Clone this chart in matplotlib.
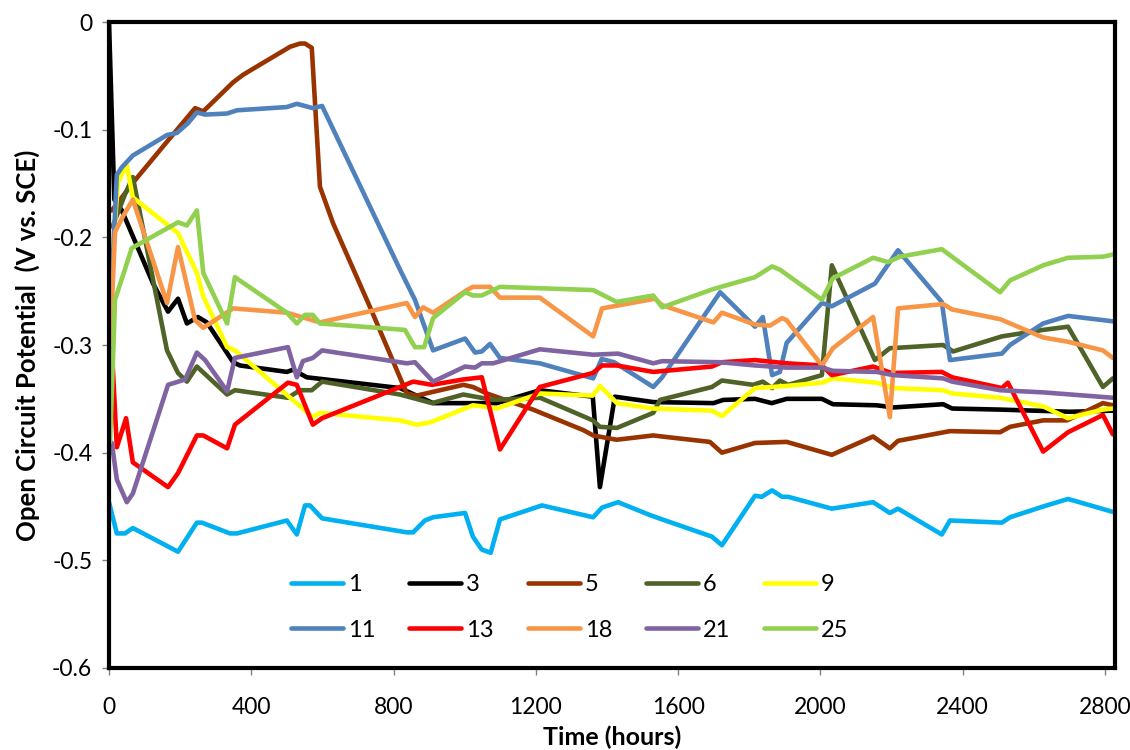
import matplotlib
matplotlib.use("Agg")
import matplotlib.pyplot as plt
from matplotlib.ticker import FuncFormatter

plt.rcParams['axes.unicode_minus'] = False
plt.rcParams['font.family'] = ['Lato', 'DejaVu Sans']

labels = ['1', '3', '5', '6', '9', '11', '13', '18', '21', '25']
colors = ['#00B0F0', '#000000', '#993300', '#4F6228', '#FFFF00',
          '#4F81BD', '#FF0000', '#F79646', '#8064A2', '#92D050']

h1 = [0, 22, 45, 67, 194, 247, 261, 340, 360, 500, 528, 551, 565, 599, 837, 855, 888, 911, 1001, 1023,
      1048, 1073, 1099, 1217, 1361, 1386, 1431, 1521, 1555, 1695, 1723, 1816, 1835, 1864, 1892,
      1909, 2032, 2148, 2195, 2218, 2341, 2364, 2510, 2533, 2626, 2696, 2822]
v1 = [-0.446, -0.475, -0.475, -0.470, -0.492, -0.465, -0.465, -0.475, -0.475, -0.463, -0.476, -0.449,
      -0.449, -0.461, -0.474, -0.474, -0.463, -0.460, -0.456, -0.478, -0.490, -0.493, -0.462, -0.449,
      -0.460, -0.451, -0.446, -0.458, -0.462, -0.478, -0.486, -0.440, -0.441, -0.435, -0.441, -0.441,
      -0.452, -0.446, -0.456, -0.452, -0.476, -0.463, -0.465, -0.460, -0.450, -0.443, -0.455]

h3 = [0, 15, 36, 124, 166, 194, 219, 250, 275, 349, 368, 500, 517, 556, 818, 911, 1090, 1211, 1360, 1380,
      1422, 1530, 1699, 1727, 1816, 1863, 1905, 2004, 2035, 2158, 2205, 2345, 2370, 2505, 2701, 2822]
v3 = [0.0, -0.165, -0.175, -0.243, -0.269, -0.257, -0.280, -0.274, -0.279, -0.316, -0.319, -0.325,
      -0.323, -0.330, -0.340, -0.354, -0.354, -0.342, -0.348, -0.432, -0.348, -0.353, -0.354, -0.351,
      -0.350, -0.354, -0.350, -0.350, -0.355, -0.356, -0.358, -0.355, -0.359, -0.360, -0.362, -0.361]

h5 = [8, 73, 166, 242, 265, 349, 377, 509, 537, 551, 570, 593, 630, 734, 837, 865, 996, 1023, 1062, 1192,
      1333, 1361, 1427, 1530, 1555, 1689, 1723, 1816, 1905, 2032, 2148, 2195, 2218, 2364, 2505,
      2533, 2626, 2693, 2794, 2822]
v5 = [-0.175, -0.147, -0.110, -0.080, -0.083, -0.056, -0.049, -0.023, -0.020, -0.020, -0.024, -0.153,
      -0.187, -0.265, -0.345, -0.347, -0.337, -0.339, -0.345, -0.360, -0.379, -0.384, -0.388, -0.384,
      -0.385, -0.390, -0.400, -0.391, -0.390, -0.402, -0.385, -0.396, -0.389, -0.380, -0.381, -0.376,
      -0.370, -0.370, -0.354, -0.356]

h6 = [10, 45, 67, 163, 194, 219, 247, 332, 354, 503, 537, 570, 599, 818, 908, 996, 1080, 1212, 1360, 1380,
      1428, 1530, 1549, 1695, 1723, 1811, 1838, 1864, 1886, 1909, 2004, 2032, 2153, 2195, 2345,
      2373, 2510, 2626, 2696, 2794, 2822]
v6 = [-0.19, -0.160, -0.144, -0.305, -0.326, -0.334, -0.320, -0.346, -0.342, -0.349, -0.342, -0.342,
      -0.334, -0.346, -0.354, -0.346, -0.351, -0.349, -0.370, -0.376, -0.377, -0.363, -0.351, -0.339,
      -0.333, -0.337, -0.334, -0.340, -0.333, -0.337, -0.328, -0.226, -0.314, -0.303, -0.300, -0.306,
      -0.292, -0.286, -0.283, -0.339, -0.331]

h9 = [3, 25, 50, 67, 194, 247, 265, 332, 354, 573, 593, 818, 865, 902, 1023, 1048, 1090, 1211, 1360, 1380,
      1428, 1530, 1695, 1723, 1816, 1864, 1905, 2004, 2035, 2158, 2205, 2345, 2370, 2505, 2626,
      2696, 2794, 2822]
v9 = [-0.25, -0.149, -0.133, -0.163, -0.196, -0.233, -0.255, -0.302, -0.305, -0.367, -0.363, -0.370,
      -0.374, -0.372, -0.356, -0.357, -0.359, -0.345, -0.347, -0.338, -0.354, -0.359, -0.361, -0.366,
      -0.340, -0.339, -0.338, -0.335, -0.331, -0.335, -0.340, -0.342, -0.345, -0.349, -0.357, -0.368,
      -0.360, -0.359]

h11 = [8, 22, 36, 67, 163, 191, 222, 247, 270, 332, 360, 500, 528, 573, 599, 818, 860, 911, 1001, 1029,
       1048, 1071, 1099, 1211, 1361, 1385, 1420, 1530, 1555, 1718, 1816, 1838, 1864, 1886, 1905,
       2004, 2032, 2153, 2218, 2341, 2364, 2510, 2533, 2626, 2696, 2822]
v11 = [-0.24, -0.142, -0.135, -0.124, -0.105, -0.103, -0.094, -0.084, -0.086, -0.085, -0.082, -0.079,
       -0.076, -0.080, -0.078, -0.230, -0.258, -0.305, -0.294, -0.307, -0.306, -0.299, -0.312, -0.317,
       -0.331, -0.313, -0.316, -0.339, -0.330, -0.251, -0.283, -0.274, -0.328, -0.325, -0.298, -0.261,
       -0.264, -0.243, -0.212, -0.260, -0.314, -0.308, -0.300, -0.280, -0.273, -0.278]

h13 = [3, 22, 48, 67, 166, 194, 247, 265, 332, 354, 503, 528, 573, 599, 818, 855, 908, 996, 1048, 1099,
       1211, 1360, 1386, 1427, 1530, 1695, 1723, 1816, 1905, 2004, 2032, 2148, 2200, 2341, 2370,
       2510, 2527, 2626, 2696, 2794, 2822]
v13 = [-0.27, -0.395, -0.368, -0.409, -0.432, -0.419, -0.384, -0.384, -0.396, -0.374, -0.335, -0.337,
       -0.374, -0.368, -0.339, -0.334, -0.337, -0.332, -0.330, -0.397, -0.339, -0.326, -0.319, -0.319,
       -0.325, -0.320, -0.316, -0.314, -0.317, -0.319, -0.328, -0.320, -0.326, -0.325, -0.330, -0.340,
       -0.335, -0.399, -0.381, -0.365, -0.383]

h18 = [3, 17, 40, 67, 163, 194, 242, 265, 349, 500, 593, 837, 860, 883, 911, 1006, 1023, 1071, 1099, 1211,
       1361, 1386, 1535, 1555, 1699, 1723, 1816, 1858, 1892, 1905, 2004, 2035, 2148, 2195, 2218,
       2345, 2370, 2505, 2626, 2696, 2794, 2822]
v18 = [-0.30, -0.195, -0.180, -0.165, -0.261, -0.209, -0.277, -0.284, -0.266, -0.270, -0.279, -0.261,
       -0.274, -0.265, -0.270, -0.249, -0.246, -0.246, -0.256, -0.256, -0.292, -0.266, -0.257, -0.263,
       -0.279, -0.270, -0.281, -0.282, -0.275, -0.277, -0.319, -0.303, -0.274, -0.367, -0.266, -0.262,
       -0.267, -0.276, -0.293, -0.297, -0.305, -0.312]

h21 = [8, 22, 50, 67, 166, 214, 247, 270, 332, 354, 503, 528, 545, 573, 599, 837, 860, 911, 1001, 1029,
       1048, 1080, 1211, 1361, 1431, 1530, 1555, 1718, 1816, 1905, 2004, 2035, 2158, 2205, 2345,
       2370, 2505, 2626, 2822]
v21 = [-0.391, -0.425, -0.446, -0.438, -0.337, -0.332, -0.307, -0.314, -0.343, -0.312, -0.302, -0.330,
       -0.315, -0.312, -0.305, -0.317, -0.316, -0.334, -0.320, -0.321, -0.317, -0.317, -0.304, -0.309,
       -0.308, -0.317, -0.315, -0.316, -0.319, -0.321, -0.321, -0.324, -0.325, -0.328, -0.331, -0.334,
       -0.342, -0.344, -0.349]

h25 = [3, 17, 64, 194, 219, 247, 265, 332, 354, 500, 528, 551, 573, 593, 832, 860, 886, 911, 1001, 1023,
       1048, 1099, 1361, 1427, 1530, 1555, 1699, 1816, 1864, 1886, 2004, 2035, 2148, 2190, 2223,
       2341, 2505, 2533, 2626, 2696, 2794, 2822]
v25 = [-0.39, -0.258, -0.210, -0.186, -0.189, -0.175, -0.233, -0.280, -0.237, -0.270, -0.280, -0.272,
       -0.272, -0.280, -0.286, -0.302, -0.302, -0.275, -0.251, -0.254, -0.254, -0.246, -0.249, -0.260,
       -0.254, -0.265, -0.248, -0.237, -0.227, -0.230, -0.258, -0.238, -0.219, -0.223, -0.218, -0.211,
       -0.251, -0.240, -0.226, -0.219, -0.218, -0.216]

series_h = [h1, h3, h5, h6, h9, h11, h13, h18, h21, h25]
series_v = [v1, v3, v5, v6, v9, v11, v13, v18, v21, v25]

xticks = [0, 400, 800, 1200, 1600, 2000, 2400, 2800]
yticks = [0, -0.1, -0.2, -0.3, -0.4, -0.5, -0.6]

fig = plt.figure(figsize=(11.3, 7.5), dpi=100)
ax = fig.add_axes([109/1130, 1 - 668/750, (1115 - 109)/1130, (668 - 22)/750])

handles = []
for h, v, c, lab in zip(series_h, series_v, colors, labels):
    ln, = ax.plot(h, v, color=c, lw=3.3, solid_joinstyle='round', solid_capstyle='round', label=lab)
    handles.append(ln)

ax.set_xlim(0, 2828)
ax.set_ylim(-0.6, 0)
ax.set_xticks(xticks)
ax.set_yticks(yticks)
ax.yaxis.set_major_formatter(FuncFormatter(lambda y, p: '0' if abs(y) < 1e-9 else f'{y:.1f}'))
ax.tick_params(axis='both', direction='out', length=5, width=1, color='#808080', labelsize=16.5)
ax.tick_params(axis='x', pad=16)
ax.tick_params(axis='y', pad=7)

for s in ax.spines.values():
    s.set_color('black')
    s.set_linewidth(3)

ax.set_xlabel('Time (hours)', fontsize=18, fontweight='bold', labelpad=5)
ax.set_ylabel('Open Circuit Potential  (V vs. SCE)', fontsize=18.5, fontweight='bold', labelpad=9)

order = [0, 5, 1, 6, 2, 7, 3, 8, 4, 9]
leg = ax.legend([handles[i] for i in order], [labels[i] for i in order], ncol=5, frameon=False,
                loc='center', bbox_to_anchor=(0.458, 0.094), fontsize=17, handlelength=2.2,
                handletextpad=0.2, columnspacing=1.45, labelspacing=1.05)

fig.savefig('out.png', dpi=100)
